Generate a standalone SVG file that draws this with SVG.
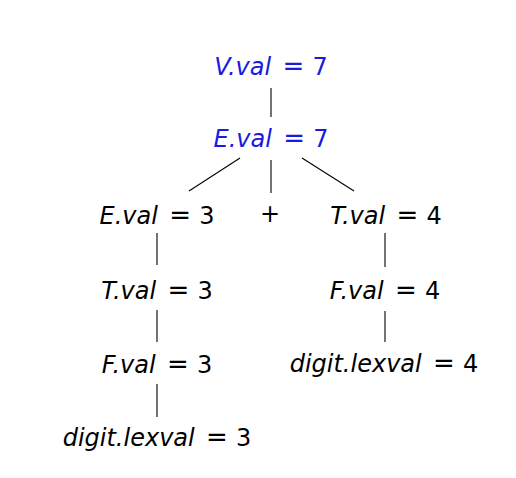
<svg xmlns="http://www.w3.org/2000/svg" width="516" height="478" viewBox="0 0 516 478">
<style>
text{font-family:"DejaVu Sans","Liberation Sans",sans-serif;font-size:24px;text-anchor:middle;fill:#000}
.b{fill:#1a1ae0}
.i{font-style:italic}
.e{font-size:26px}
.c line{stroke:#000;stroke-width:1.1}
</style>
<rect width="516" height="478" fill="#fff"/>
<g class="c" id="connectors">
<line x1="271" y1="88" x2="271" y2="117"/>
<line x1="240" y1="158" x2="189" y2="191"/>
<line x1="271" y1="160" x2="271" y2="193"/>
<line x1="302" y1="158" x2="354" y2="191"/>
<line x1="157" y1="233" x2="157" y2="265"/>
<line x1="157" y1="310" x2="157" y2="342"/>
<line x1="157" y1="384" x2="157" y2="417"/>
<line x1="385" y1="233" x2="385" y2="267"/>
<line x1="385" y1="311" x2="385" y2="342"/>
</g>
<g id="V"><text class="b" x="271" y="75"><tspan class="i">V.val</tspan><tspan class="e" dx="3"> = </tspan>7</text></g>
<g id="E0"><text class="b" x="271" y="147"><tspan class="i">E.val</tspan><tspan class="e" dx="3"> = </tspan>7</text></g>
<g id="E1"><text x="157" y="224"><tspan class="i">E.val</tspan><tspan class="e" dx="3"> = </tspan>3</text></g>
<g id="plus"><text x="270" y="222">+</text></g>
<g id="T4"><text x="386" y="224"><tspan class="i">T.val</tspan><tspan class="e" dx="3"> = </tspan>4</text></g>
<g id="T3"><text x="157" y="299"><tspan class="i">T.val</tspan><tspan class="e" dx="3"> = </tspan>3</text></g>
<g id="F4"><text x="385" y="299"><tspan class="i">F.val</tspan><tspan class="e" dx="3"> = </tspan>4</text></g>
<g id="F3"><text x="157" y="373"><tspan class="i">F.val</tspan><tspan class="e" dx="3"> = </tspan>3</text></g>
<g id="D4"><text x="384" y="372"><tspan class="i">digit.lexval</tspan><tspan class="e" dx="3"> = </tspan>4</text></g>
<g id="D3"><text x="157" y="446"><tspan class="i">digit.lexval</tspan><tspan class="e" dx="3"> = </tspan>3</text></g>
</svg>
